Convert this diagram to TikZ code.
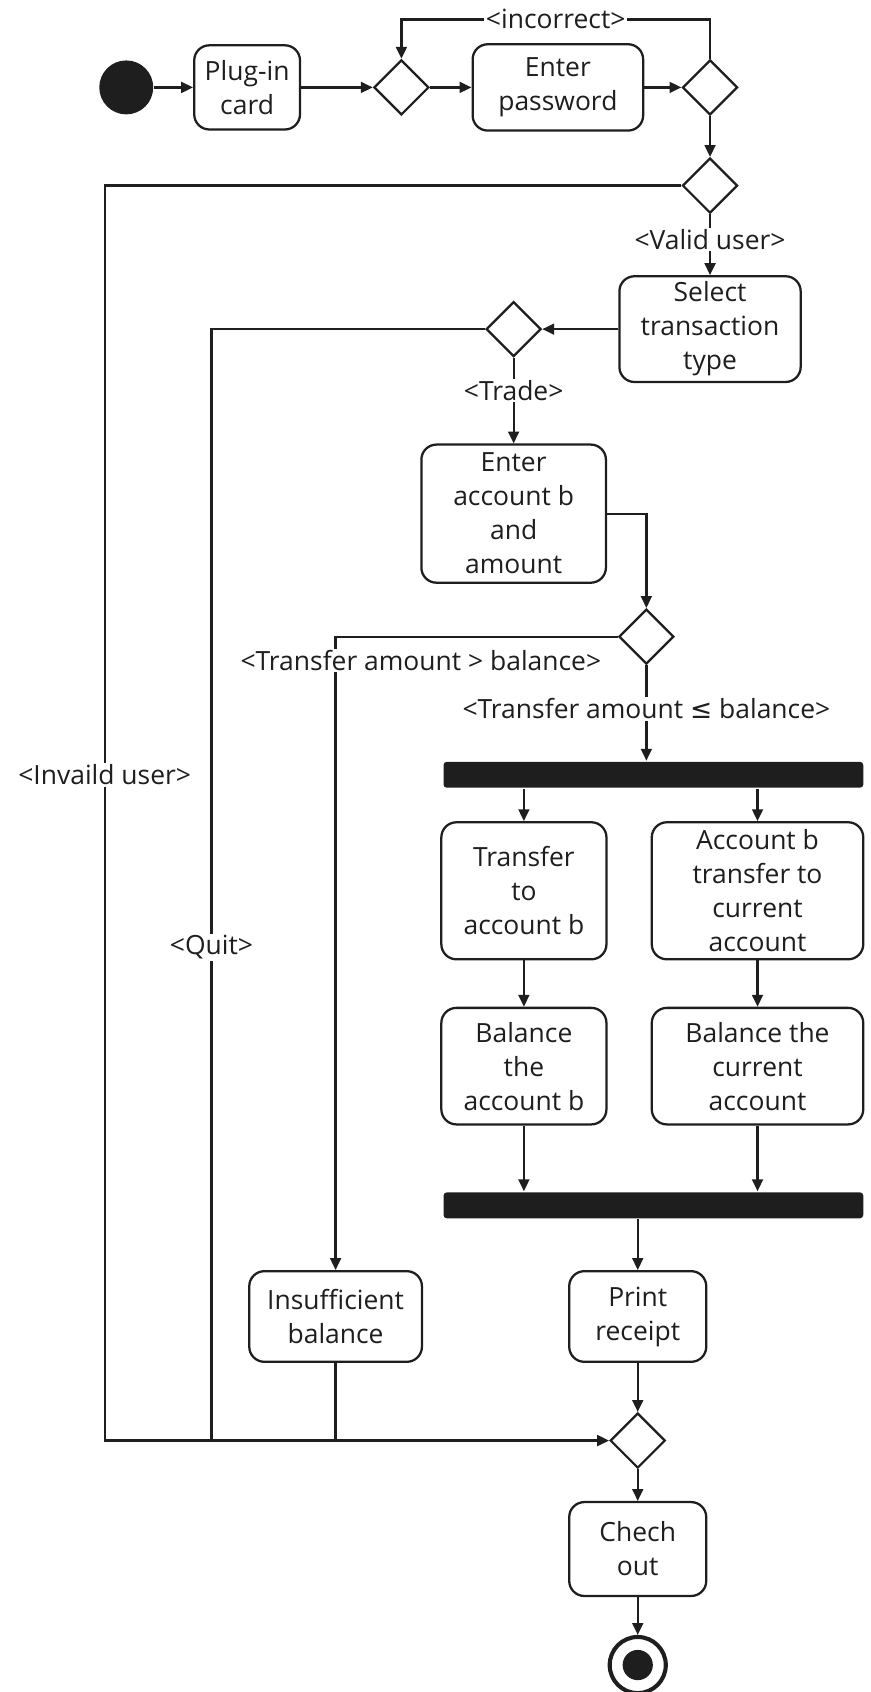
\documentclass[tikz,border=0pt]{standalone}
\usepackage{fontspec}
\setmainfont{Open Sans}
\newfontfamily\symfont{DejaVu Sans}
\usetikzlibrary{arrows.meta,shapes.geometric,calc}
\definecolor{ink}{HTML}{1E1E1E}
\begin{document}
\begin{tikzpicture}[x=1pt,y=-1pt,
  font=\fontsize{24.5}{31.5}\selectfont,
  color=ink,
  line width=2.1pt,
  act/.style={draw, rounded corners=14pt, align=center, inner sep=0pt, line width=2.1pt},
  dec/.style={draw, diamond, minimum width=51pt, minimum height=51pt, inner sep=0pt, line width=2.1pt},
  bar/.style={fill, draw=none, rounded corners=3pt, minimum width=389pt, minimum height=24pt, inner sep=0pt},
  flow/.style={-{Triangle[length=11pt,width=10pt]}},
  guard/.style={fill=white, inner sep=1.5pt}
]
\useasboundingbox (0,0) rectangle (807,1568);

% activity nodes
\node[circle, fill, draw=none, minimum size=50pt, inner sep=0pt] (start) at (117,81) {};
\node[act, minimum width=98pt, minimum height=78pt] (plug) at (229,81) {Plug-in\\card};
\node[dec] (d1) at (372,81) {};
\node[act, minimum width=158pt, minimum height=80pt] (pwd) at (517,81) {Enter\\password};
\node[dec] (d2) at (658,81) {};
\node[dec] (d3) at (658,172) {};
\node[act, minimum width=168pt, minimum height=98pt] (sel) at (658,305) {Select\\transaction\\type};
\node[dec] (d4) at (476,305) {};
\node[act, minimum width=171pt, minimum height=128pt] (ent) at (476,476) {Enter\\account b\\and\\amount};
\node[dec] (d5) at (599,590) {};
\node[bar] (fork) at (605.5,718) {};
\node[act, minimum width=153pt, minimum height=127pt] (tr) at (485.5,825.5) {Transfer\\to\\account b};
\node[act, minimum width=196pt, minimum height=127pt] (ab) at (702,825.5) {Account b\\transfer to\\current\\account};
\node[act, minimum width=153pt, minimum height=108pt] (bal1) at (485.5,988) {Balance\\the\\account b};
\node[act, minimum width=196pt, minimum height=108pt] (bal2) at (702,988) {Balance the\\current\\account};
\node[bar] (join) at (605.5,1117) {};
\node[act, minimum width=160pt, minimum height=84pt] (insuf) at (311,1220) {Insufficient\\balance};
\node[act, minimum width=127pt, minimum height=84pt] (print) at (591,1220) {Print\\receipt};
\node[dec] (d6) at (591,1335) {};
\node[act, minimum width=127pt, minimum height=87pt] (chk) at (591,1435.5) {Chech\\out};
\node[circle, draw, line width=3.8pt, minimum size=52pt, inner sep=0pt] (end) at (591,1543) {};
\node[circle, fill, draw=none, minimum size=28pt, inner sep=0pt] (endin) at (end) {};

% bend points of the long connectors
\coordinate (inc) at (515,18);
\coordinate (inv) at (97,718);
\coordinate (quit) at (196,878);

% connectors
\draw[flow] (start) -- (plug);
\draw[flow] (plug) -- (d1);
\draw[flow] (d1) -- (pwd);
\draw[flow] (pwd) -- (d2);
\draw[flow] (d2.north) |- (inc) -| (d1.north);
\draw[flow] (d2) -- (d3);
\draw[flow] (d3.west) -| (inv) |- (d6.west);
\draw[flow] (d3) -- (sel);
\draw[flow] (sel) -- (d4);
\draw (d4.west) -| (quit) -- (quit |- d6);
\draw[flow] (d4) -- (ent);
\draw[flow] (ent.east) -| (d5.north);
\draw[flow] (d5.west) -| (insuf.north);
\draw[flow] (d5) -- (d5 |- fork.north);
\draw[flow] (tr.north |- fork.south) -- (tr.north);
\draw[flow] (ab.north |- fork.south) -- (ab.north);
\draw[flow] (tr) -- (bal1);
\draw[flow] (ab) -- (bal2);
\draw[flow] (bal1.south) -- (bal1.south |- join.north);
\draw[flow] (bal2.south) -- (bal2.south |- join.north);
\draw[flow] (print.north |- join.south) -- (print.north);
\draw (insuf.south) -- (insuf.south |- d6);
\draw[flow] (print) -- (d6);
\draw[flow] (d6) -- (chk);
\draw[flow] (chk) -- (end);

% guard labels
\node[guard] (lincorrect) at (inc) {<incorrect>};
\node[guard] (linvalid) at (inv) {<Invaild user>};
\node[guard] (lvalid) at (658,222) {<Valid user>};
\node[guard] (lquit) at (quit) {<Quit>};
\node[guard] (ltrade) at (476,362) {<Trade>};
\node[guard] (lgt) at (390,612) {<Transfer amount > balance>};
\node[guard] (lle) at (599,657) {<Transfer amount {\symfont ≤} balance>};
\end{tikzpicture}
\end{document}
